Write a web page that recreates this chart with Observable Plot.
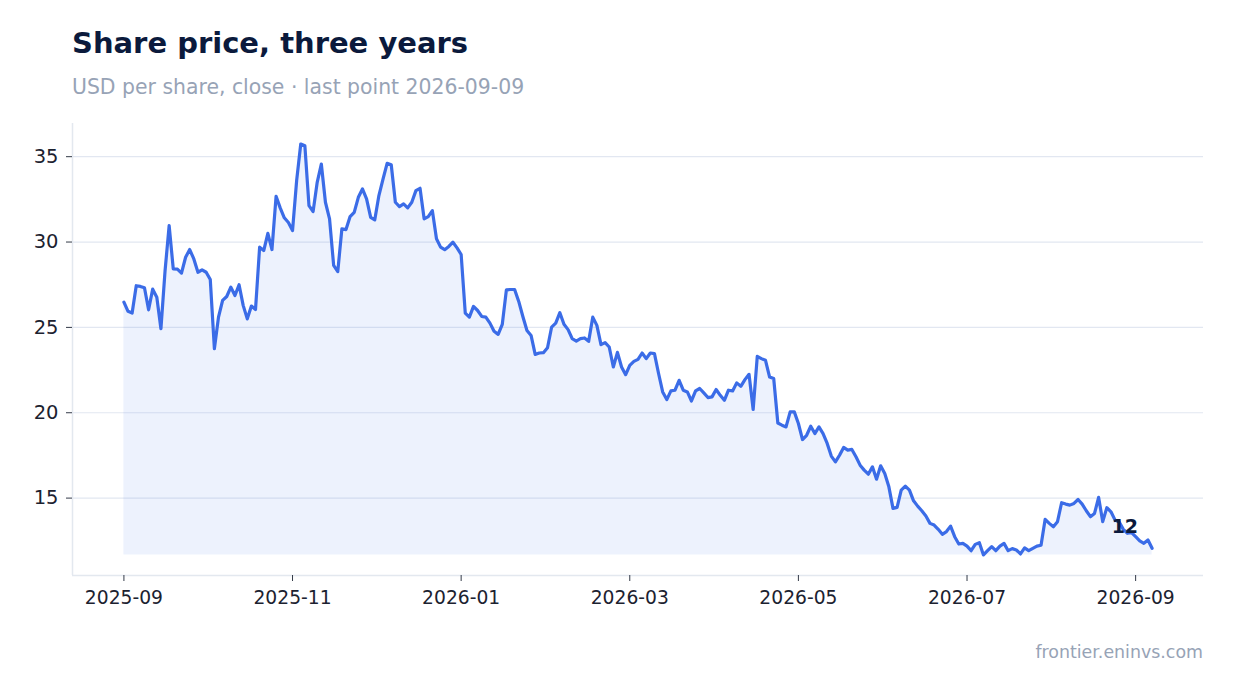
<!DOCTYPE html>
<html>
<head>
<meta charset="utf-8">
<script src="https://cdn.jsdelivr.net/npm/d3@7"></script>
<script src="https://cdn.jsdelivr.net/npm/@observablehq/plot@0.6"></script>
<style>
  html, body { margin: 0; padding: 0; background: #ffffff; }
  body { width: 1234px; height: 693px; position: relative; overflow: hidden; font-family: "DejaVu Sans", sans-serif; }
  #title { position: absolute; left: 72px; top: 28.5px; font-size: 29px; line-height: 29px; font-weight: bold; color: #0b1a3c; white-space: nowrap; }
  #subtitle { position: absolute; left: 72px; top: 76.5px; font-size: 20.4px; line-height: 20.4px; color: #97a3b6; white-space: nowrap; }
  #chart { position: absolute; left: 0; top: 100px; }
  #footer { position: absolute; right: 31px; top: 644px; font-size: 17.4px; line-height: 17.4px; color: #97a3b6; white-space: nowrap; }
</style>
</head>
<body>
<div id="title">Share price, three years</div>
<div id="subtitle">USD per share, close · last point 2026-09-09</div>
<div id="chart"></div>
<div id="footer">frontier.eninvs.com</div>
<script>
// First and last observation dates (observations are evenly spaced between them)
const firstDate = "2025-09-01";
const lastDate = "2026-09-09";
// An x tick (labelled with the month of that observation) every N observations
const tickEvery = 41;

// Close prices, USD per share
const closes = [
  26.48, 25.94, 25.84, 27.44, 27.40, 27.32, 26.03, 27.24, 26.77, 24.92,
  28.30, 30.96, 28.43, 28.41, 28.18, 29.11, 29.56, 29.01, 28.23, 28.37,
  28.23, 27.80, 23.75, 25.60, 26.58, 26.81, 27.36, 26.87, 27.50, 26.29,
  25.50, 26.25, 26.05, 29.70, 29.50, 30.51, 29.56, 32.68, 32.00, 31.42,
  31.14, 30.67, 33.60, 35.74, 35.64, 32.13, 31.78, 33.50, 34.57, 32.33,
  31.36, 28.63, 28.27, 30.77, 30.73, 31.49, 31.74, 32.62, 33.11, 32.53,
  31.45, 31.30, 32.72, 33.69, 34.61, 34.53, 32.33, 32.08, 32.23, 32.00,
  32.33, 33.01, 33.15, 31.36, 31.49, 31.84, 30.19, 29.70, 29.55, 29.74,
  29.99, 29.66, 29.27, 25.84, 25.60, 26.23, 25.99, 25.64, 25.60, 25.25,
  24.77, 24.59, 25.18, 27.20, 27.22, 27.22, 26.52, 25.64, 24.82, 24.53,
  23.42, 23.50, 23.52, 23.81, 25.02, 25.25, 25.86, 25.18, 24.87, 24.34,
  24.20, 24.34, 24.38, 24.18, 25.60, 25.12, 23.99, 24.11, 23.85, 22.68,
  23.54, 22.68, 22.23, 22.78, 23.01, 23.13, 23.50, 23.17, 23.50, 23.46,
  22.30, 21.22, 20.77, 21.28, 21.32, 21.90, 21.32, 21.22, 20.69, 21.28,
  21.42, 21.16, 20.89, 20.93, 21.36, 21.02, 20.73, 21.32, 21.28, 21.75,
  21.55, 21.94, 22.25, 20.19, 23.30, 23.17, 23.07, 22.09, 22.00, 19.40,
  19.27, 19.17, 20.05, 20.05, 19.37, 18.43, 18.68, 19.21, 18.78, 19.17,
  18.78, 18.20, 17.46, 17.12, 17.51, 17.97, 17.81, 17.85, 17.42, 16.93,
  16.64, 16.40, 16.83, 16.11, 16.89, 16.44, 15.66, 14.40, 14.46, 15.47,
  15.70, 15.47, 14.84, 14.53, 14.26, 13.95, 13.52, 13.42, 13.17, 12.88,
  13.04, 13.36, 12.74, 12.31, 12.35, 12.19, 11.92, 12.29, 12.39, 11.67,
  11.92, 12.16, 11.92, 12.19, 12.35, 11.92, 12.04, 11.96, 11.73, 12.08,
  11.92, 12.06, 12.19, 12.24, 13.76, 13.52, 13.32, 13.62, 14.73, 14.65,
  14.59, 14.69, 14.92, 14.65, 14.26, 13.91, 14.10, 15.04, 13.62, 14.44,
  14.20, 13.71, 13.60, 13.17, 12.94, 12.98, 12.74, 12.49, 12.35, 12.55,
  12.06
];

// Axis tick values
const yTicks = [15, 20, 25, 30, 35];
const xTickFormat = "%Y-%m";

// Build table
const t0 = Date.parse(firstDate + "T00:00:00Z");
const t1 = Date.parse(lastDate + "T00:00:00Z");
const step = (t1 - t0) / (closes.length - 1);
const data = closes.map((v, i) => ({date: new Date(t0 + i * step), close: v}));
const last = data[data.length - 1];
const xTicks = data.filter((d, i) => i % tickEvery === 0).map(d => d.date);

const vMin = d3.min(closes), vMax = d3.max(closes);
const vPad = (vMax - vMin) * 0.05;
const yDomain = [vMin - vPad, vMax + vPad];
const tPad = (t1 - t0) * 0.05;
const xDomain = [new Date(t0 - tPad), new Date(t1 + tPad)];

const lineColor = "#3b6ce7";
const gridColor = "#e2e7f1";
const frameColor = "#e3e8ef";
const inkColor = "#1c2230";

const chart = Plot.plot({
  width: 1234,
  height: 540,
  marginLeft: 72,
  marginRight: 31,
  marginTop: 23,
  marginBottom: 65,
  style: {fontFamily: "DejaVu Sans, sans-serif", fontSize: "19px", color: inkColor, background: "transparent"},
  x: {type: "utc", domain: xDomain},
  y: {domain: yDomain},
  marks: [
    Plot.gridY(yTicks, {stroke: gridColor, strokeOpacity: 1, strokeWidth: 1.2}),
    Plot.areaY(data, {x: "date", y1: vMin, y2: "close", fill: lineColor, fillOpacity: 0.09}),
    Plot.ruleX([xDomain[0]], {stroke: frameColor, strokeWidth: 1.5}),
    Plot.ruleY([yDomain[0]], {stroke: frameColor, strokeWidth: 1.5}),
    Plot.axisY(yTicks, {tickSize: 6, tickPadding: 8, fontSize: 19.5, stroke: "#333a48", fill: inkColor, label: null}),
    Plot.axisX(xTicks, {tickFormat: d3.utcFormat(xTickFormat), tickSize: 6, tickPadding: 9, fontSize: 18.7, stroke: "#333a48", fill: inkColor, label: null}),
    Plot.line(data, {x: "date", y: "close", stroke: lineColor, strokeWidth: 3.2, strokeLinejoin: "round", strokeLinecap: "round"}),
    Plot.text([last], {x: "date", y: "close", text: d => String(Math.round(d.close)), dx: -14, dy: -21, textAnchor: "end", fontWeight: "bold", fontSize: 19, fill: "#0b1a3c"})
  ]
});
document.getElementById("chart").appendChild(chart);
</script>
</body>
</html>
